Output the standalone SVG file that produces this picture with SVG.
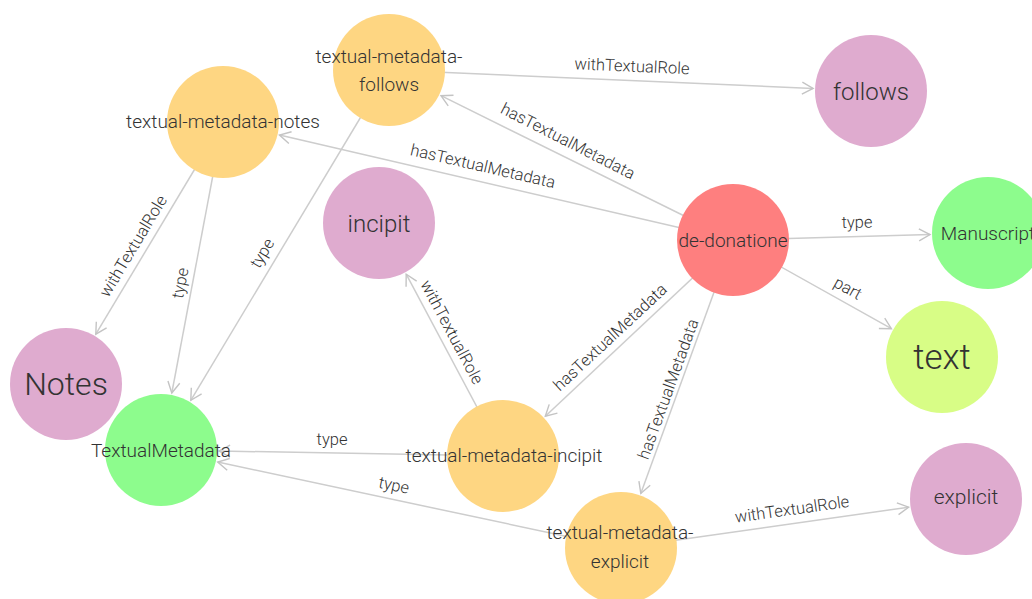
<svg xmlns="http://www.w3.org/2000/svg" width="1032" height="599" viewBox="0 0 1032 599">
  <defs>
    <marker id="arrow" markerUnits="userSpaceOnUse" markerWidth="14" markerHeight="16" refX="12" refY="7" orient="auto">
      <path d="M1,1 L12,7 L1,13" fill="none" stroke="#c4c4c4" stroke-width="1.4"/>
    </marker>
    <style>
      .edge line { stroke: #cdcdcd; stroke-width: 1.5; fill: none; marker-end: url(#arrow); }
      .elabel { font-family: Roboto, "Liberation Sans", sans-serif; font-weight: 300; font-size: 16.5px; fill: #333; text-anchor: middle; }
      .nlabel { font-family: Roboto, "Liberation Sans", sans-serif; font-weight: 300; font-size: 19px; fill: #333; text-anchor: middle; }
      .meta { fill: #fed682; }
      .role { fill: #dfabcf; }
      .cls { fill: #8dfc8d; }
      .main { fill: #fe7f7f; }
      .part { fill: #d8fd86; }
    </style>
  </defs>
  <rect width="1032" height="599" fill="#ffffff"/>

  <!-- connectors: lines run from source centre to just outside the target circle -->
  <g id="edges" class="edge">
    <line x1="389" y1="70" x2="813.1" y2="88.5"/>
    <line x1="733" y1="240" x2="441.0" y2="95.7"/>
    <line x1="733" y1="240" x2="279.5" y2="135.1"/>
    <line x1="223" y1="122" x2="95.8" y2="334.2"/>
    <line x1="223" y1="122" x2="171.8" y2="393.0"/>
    <line x1="389" y1="70" x2="190.8" y2="400.3"/>
    <line x1="733" y1="240" x2="930.0" y2="234.6"/>
    <line x1="733" y1="240" x2="891.4" y2="328.7"/>
    <line x1="733" y1="240" x2="545.3" y2="416.3"/>
    <line x1="733" y1="240" x2="640.8" y2="493.5"/>
    <line x1="503" y1="456" x2="406.2" y2="274.2"/>
    <line x1="503" y1="456" x2="219.0" y2="451.0"/>
    <line x1="621" y1="548" x2="217.7" y2="462.1"/>
    <line x1="621" y1="548" x2="908.6" y2="507.2"/>
  </g>

  <g id="edge-labels">
    <text class="elabel" x="632" y="66" dy="0.35em" transform="rotate(2.5 632 66)">withTextualRole</text>
    <text class="elabel" x="568" y="141" dy="0.35em" transform="rotate(27 568 141)">hasTextualMetadata</text>
    <text class="elabel" x="483" y="166" dy="0.35em" transform="rotate(13 483 166)">hasTextualMetadata</text>
    <text class="elabel" x="133" y="246" dy="0.35em" transform="rotate(-59 133 246)">withTextualRole</text>
    <text class="elabel" x="180" y="283" dy="0.35em" transform="rotate(-79 180 283)">type</text>
    <text class="elabel" x="262" y="253" dy="0.35em" transform="rotate(-59 262 253)">type</text>
    <text class="elabel" x="857" y="222" dy="0.35em" transform="rotate(-1 857 222)">type</text>
    <text class="elabel" x="848" y="288" dy="0.35em" transform="rotate(29 848 288)">part</text>
    <text class="elabel" x="610" y="337" dy="0.35em" transform="rotate(-43 610 337)">hasTextualMetadata</text>
    <text class="elabel" x="668" y="389" dy="0.35em" transform="rotate(-70 668 389)">hasTextualMetadata</text>
    <text class="elabel" x="452" y="332" dy="0.35em" transform="rotate(62 452 332)">withTextualRole</text>
    <text class="elabel" x="332" y="439" dy="0.35em">type</text>
    <text class="elabel" x="394" y="485" dy="0.35em" transform="rotate(12 394 485)">type</text>
    <text class="elabel" x="792" y="509" dy="0.35em" transform="rotate(-8 792 509)">withTextualRole</text>
  </g>

  <g id="node-textual-metadata-notes">
    <circle class="meta" cx="223" cy="122" r="56"/>
    <text class="nlabel" x="223" y="128">textual-metadata-notes</text>
  </g>
  <g id="node-textual-metadata-follows">
    <circle class="meta" cx="389" cy="70" r="56"/>
    <text class="nlabel" x="389" y="63">textual-metadata-</text>
    <text class="nlabel" x="389" y="91">follows</text>
  </g>
  <g id="node-incipit">
    <circle class="role" cx="379" cy="223" r="56"/>
    <text class="nlabel" x="379" y="232" style="font-size:24px">incipit</text>
  </g>
  <g id="node-follows">
    <circle class="role" cx="871" cy="91" r="56"/>
    <text class="nlabel" x="871" y="100" style="font-size:24px">follows</text>
  </g>
  <g id="node-de-donatione">
    <circle class="main" cx="733" cy="240" r="56"/>
    <text class="nlabel" x="733" y="247">de-donatione</text>
  </g>
  <g id="node-Manuscript">
    <circle class="cls" cx="988" cy="233" r="56"/>
    <text class="nlabel" x="988" y="240">Manuscript</text>
  </g>
  <g id="node-Notes">
    <circle class="role" cx="66" cy="384" r="56"/>
    <text class="nlabel" x="66" y="395" style="font-size:32px">Notes</text>
  </g>
  <g id="node-TextualMetadata">
    <circle class="cls" cx="161" cy="450" r="56"/>
    <text class="nlabel" x="161" y="457">TextualMetadata</text>
  </g>
  <g id="node-textual-metadata-incipit">
    <circle class="meta" cx="503" cy="456" r="56"/>
    <text class="nlabel" x="504" y="462">textual-metadata-incipit</text>
  </g>
  <g id="node-text">
    <circle class="part" cx="942" cy="357" r="56"/>
    <text class="nlabel" x="942" y="369" style="font-size:35px">text</text>
  </g>
  <g id="node-explicit">
    <circle class="role" cx="966" cy="499" r="56"/>
    <text class="nlabel" x="966" y="504" style="font-size:21px">explicit</text>
  </g>
  <g id="node-textual-metadata-explicit">
    <circle class="meta" cx="621" cy="548" r="56"/>
    <text class="nlabel" x="620" y="539">textual-metadata-</text>
    <text class="nlabel" x="620" y="568">explicit</text>
  </g>
</svg>
